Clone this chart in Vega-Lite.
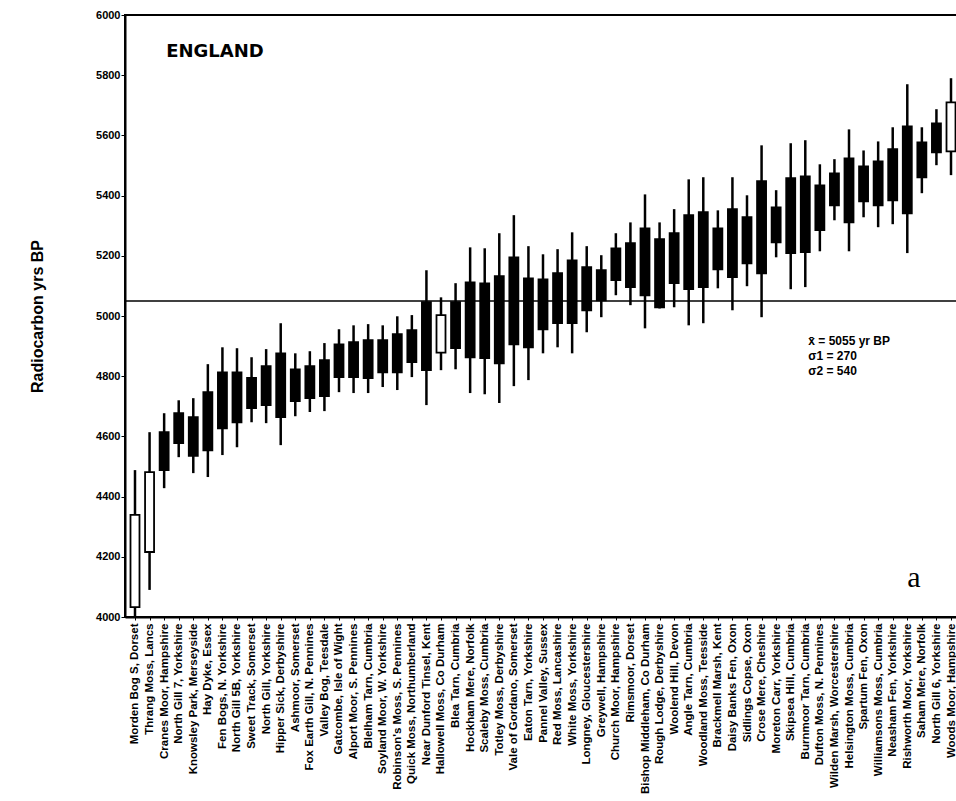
{
  "$schema": "https://vega.github.io/schema/vega-lite/v6.json",
  "width": 836,
  "height": 602,
  "autosize": {"type": "none"},
  "padding": {"left": 125, "top": 15, "right": 0, "bottom": 184},
  "background": "white",
  "config": {
    "view": {"stroke": "black", "strokeWidth": 2},
    "font": "Liberation Sans",
    "axis": {"grid": false, "domainColor": "black", "tickColor": "black", "labelColor": "black", "titleColor": "black"}
  },
  "datasets": {
    "sites": [
      {"site": "Morden Bog S, Dorset", "lo": 4000, "q1": 4033, "q3": 4339, "hi": 4488, "kind": "open"},
      {"site": "Thrang Moss, Lancs", "lo": 4090, "q1": 4216, "q3": 4481, "hi": 4614, "kind": "open"},
      {"site": "Cranes Moor, Hampshire", "lo": 4428, "q1": 4488, "q3": 4614, "hi": 4677, "kind": "filled"},
      {"site": "North Gill 7, Yorkshire", "lo": 4531, "q1": 4578, "q3": 4677, "hi": 4720, "kind": "filled"},
      {"site": "Knowsley Park, Merseyside", "lo": 4478, "q1": 4535, "q3": 4664, "hi": 4727, "kind": "filled"},
      {"site": "Hay Dyke, Essex", "lo": 4465, "q1": 4554, "q3": 4747, "hi": 4840, "kind": "filled"},
      {"site": "Fen Bogs, N. Yorkshire", "lo": 4538, "q1": 4627, "q3": 4813, "hi": 4896, "kind": "filled"},
      {"site": "North Gill 5B, Yorkshire", "lo": 4564, "q1": 4647, "q3": 4813, "hi": 4893, "kind": "filled"},
      {"site": "Sweet Track, Somerset", "lo": 4647, "q1": 4694, "q3": 4794, "hi": 4863, "kind": "filled"},
      {"site": "North Gill, Yorkshire", "lo": 4644, "q1": 4704, "q3": 4833, "hi": 4890, "kind": "filled"},
      {"site": "Hipper Sick, Derbyshire", "lo": 4571, "q1": 4664, "q3": 4876, "hi": 4976, "kind": "filled"},
      {"site": "Ashmoor, Somerset", "lo": 4667, "q1": 4717, "q3": 4823, "hi": 4876, "kind": "filled"},
      {"site": "Fox Earth Gill, N. Pennines", "lo": 4681, "q1": 4727, "q3": 4833, "hi": 4883, "kind": "filled"},
      {"site": "Valley Bog, Teesdale", "lo": 4684, "q1": 4734, "q3": 4853, "hi": 4910, "kind": "filled"},
      {"site": "Gatcombe, Isle of Wight", "lo": 4747, "q1": 4797, "q3": 4906, "hi": 4956, "kind": "filled"},
      {"site": "Alport Moor, S. Pennines", "lo": 4744, "q1": 4797, "q3": 4913, "hi": 4969, "kind": "filled"},
      {"site": "Blelham Tarn, Cumbria", "lo": 4744, "q1": 4794, "q3": 4920, "hi": 4973, "kind": "filled"},
      {"site": "Soyland Moor, W. Yorkshire", "lo": 4764, "q1": 4813, "q3": 4920, "hi": 4969, "kind": "filled"},
      {"site": "Robinson's Moss, S. Pennines", "lo": 4754, "q1": 4813, "q3": 4940, "hi": 4999, "kind": "filled"},
      {"site": "Quick Moss, Northumberland", "lo": 4797, "q1": 4847, "q3": 4953, "hi": 5003, "kind": "filled"},
      {"site": "Near Dunford Tinsel, Kent", "lo": 4704, "q1": 4820, "q3": 5046, "hi": 5152, "kind": "filled"},
      {"site": "Hallowell Moss, Co Durham", "lo": 4820, "q1": 4878, "q3": 5003, "hi": 5062, "kind": "open"},
      {"site": "Blea Tarn, Cumbria", "lo": 4823, "q1": 4893, "q3": 5046, "hi": 5109, "kind": "filled"},
      {"site": "Hockham Mere, Norfolk", "lo": 4744, "q1": 4863, "q3": 5112, "hi": 5228, "kind": "filled"},
      {"site": "Scaleby Moss, Cumbria", "lo": 4740, "q1": 4860, "q3": 5108, "hi": 5225, "kind": "filled"},
      {"site": "Totley Moss, Derbyshire", "lo": 4711, "q1": 4843, "q3": 5132, "hi": 5275, "kind": "filled"},
      {"site": "Vale of Gordano, Somerset", "lo": 4767, "q1": 4906, "q3": 5195, "hi": 5335, "kind": "filled"},
      {"site": "Eaton Tarn, Yorkshire", "lo": 4787, "q1": 4896, "q3": 5125, "hi": 5232, "kind": "filled"},
      {"site": "Pannel Valley, Sussex", "lo": 4876, "q1": 4956, "q3": 5122, "hi": 5205, "kind": "filled"},
      {"site": "Red Moss, Lancashire", "lo": 4896, "q1": 4976, "q3": 5142, "hi": 5222, "kind": "filled"},
      {"site": "White Moss, Yorkshire", "lo": 4876, "q1": 4976, "q3": 5185, "hi": 5278, "kind": "filled"},
      {"site": "Longney, Gloucestershire", "lo": 4946, "q1": 5019, "q3": 5162, "hi": 5232, "kind": "filled"},
      {"site": "Greywell, Hampshire", "lo": 4996, "q1": 5052, "q3": 5152, "hi": 5202, "kind": "filled"},
      {"site": "Church Moor, Hampshire", "lo": 5069, "q1": 5119, "q3": 5225, "hi": 5275, "kind": "filled"},
      {"site": "Rimsmoor, Dorset", "lo": 5036, "q1": 5096, "q3": 5242, "hi": 5311, "kind": "filled"},
      {"site": "Bishop Middleham, Co Durham", "lo": 4959, "q1": 5069, "q3": 5291, "hi": 5404, "kind": "filled"},
      {"site": "Rough Lodge, Derbyshire", "lo": 5025, "q1": 5029, "q3": 5255, "hi": 5311, "kind": "filled"},
      {"site": "Woolend Hill, Devon", "lo": 5029, "q1": 5109, "q3": 5275, "hi": 5355, "kind": "filled"},
      {"site": "Angle Tarn, Cumbria", "lo": 4969, "q1": 5089, "q3": 5335, "hi": 5454, "kind": "filled"},
      {"site": "Woodland Moss, Teesside", "lo": 4976, "q1": 5096, "q3": 5345, "hi": 5461, "kind": "filled"},
      {"site": "Brackmell Marsh, Kent", "lo": 5092, "q1": 5155, "q3": 5291, "hi": 5351, "kind": "filled"},
      {"site": "Daisy Banks Fen, Oxon", "lo": 5019, "q1": 5129, "q3": 5355, "hi": 5461, "kind": "filled"},
      {"site": "Sidlings Copse, Oxon", "lo": 5099, "q1": 5175, "q3": 5328, "hi": 5401, "kind": "filled"},
      {"site": "Crose Mere, Cheshire", "lo": 4996, "q1": 5142, "q3": 5448, "hi": 5567, "kind": "filled"},
      {"site": "Moreton Carr, Yorkshire", "lo": 5195, "q1": 5245, "q3": 5361, "hi": 5418, "kind": "filled"},
      {"site": "Skipsea Hill, Cumbria", "lo": 5089, "q1": 5209, "q3": 5458, "hi": 5574, "kind": "filled"},
      {"site": "Burnmoor Tarn, Cumbria", "lo": 5096, "q1": 5212, "q3": 5464, "hi": 5584, "kind": "filled"},
      {"site": "Dufton Moss, N. Pennines", "lo": 5215, "q1": 5285, "q3": 5434, "hi": 5504, "kind": "filled"},
      {"site": "Wilden Marsh, Worcestershire", "lo": 5318, "q1": 5368, "q3": 5474, "hi": 5521, "kind": "filled"},
      {"site": "Helsington Moss, Cumbria", "lo": 5215, "q1": 5311, "q3": 5524, "hi": 5620, "kind": "filled"},
      {"site": "Spartum Fen, Oxon", "lo": 5328, "q1": 5381, "q3": 5497, "hi": 5550, "kind": "filled"},
      {"site": "Williamsons Moss, Cumbria", "lo": 5295, "q1": 5368, "q3": 5514, "hi": 5580, "kind": "filled"},
      {"site": "Neasham Fen, Yorkshire", "lo": 5305, "q1": 5384, "q3": 5554, "hi": 5627, "kind": "filled"},
      {"site": "Rishworth Moor, Yorkshire", "lo": 5209, "q1": 5341, "q3": 5630, "hi": 5770, "kind": "filled"},
      {"site": "Saham Mere, Norfolk", "lo": 5408, "q1": 5461, "q3": 5577, "hi": 5627, "kind": "filled"},
      {"site": "North Gill 6, Yorkshire", "lo": 5501, "q1": 5544, "q3": 5640, "hi": 5687, "kind": "filled"},
      {"site": "Woods Moor, Hampshire", "lo": 5468, "q1": 5547, "q3": 5710, "hi": 5790, "kind": "open"}
    ]
  },
  "layer": [
    {
      "data": {"name": "sites"},
      "mark": {"type": "rule", "color": "black", "strokeWidth": 2.5},
      "encoding": {
        "x": {
          "field": "site", "type": "nominal",
          "scale": {"type": "point", "padding": 0.686, "domain": ["Morden Bog S, Dorset","Thrang Moss, Lancs","Cranes Moor, Hampshire","North Gill 7, Yorkshire","Knowsley Park, Merseyside","Hay Dyke, Essex","Fen Bogs, N. Yorkshire","North Gill 5B, Yorkshire","Sweet Track, Somerset","North Gill, Yorkshire","Hipper Sick, Derbyshire","Ashmoor, Somerset","Fox Earth Gill, N. Pennines","Valley Bog, Teesdale","Gatcombe, Isle of Wight","Alport Moor, S. Pennines","Blelham Tarn, Cumbria","Soyland Moor, W. Yorkshire","Robinson's Moss, S. Pennines","Quick Moss, Northumberland","Near Dunford Tinsel, Kent","Hallowell Moss, Co Durham","Blea Tarn, Cumbria","Hockham Mere, Norfolk","Scaleby Moss, Cumbria","Totley Moss, Derbyshire","Vale of Gordano, Somerset","Eaton Tarn, Yorkshire","Pannel Valley, Sussex","Red Moss, Lancashire","White Moss, Yorkshire","Longney, Gloucestershire","Greywell, Hampshire","Church Moor, Hampshire","Rimsmoor, Dorset","Bishop Middleham, Co Durham","Rough Lodge, Derbyshire","Woolend Hill, Devon","Angle Tarn, Cumbria","Woodland Moss, Teesside","Brackmell Marsh, Kent","Daisy Banks Fen, Oxon","Sidlings Copse, Oxon","Crose Mere, Cheshire","Moreton Carr, Yorkshire","Skipsea Hill, Cumbria","Burnmoor Tarn, Cumbria","Dufton Moss, N. Pennines","Wilden Marsh, Worcestershire","Helsington Moss, Cumbria","Spartum Fen, Oxon","Williamsons Moss, Cumbria","Neasham Fen, Yorkshire","Rishworth Moor, Yorkshire","Saham Mere, Norfolk","North Gill 6, Yorkshire","Woods Moor, Hampshire"]},
          "axis": {
            "title": null, "labelAngle": -90, "labelFont": "Liberation Sans", "labelFontWeight": "bold",
            "labelFontSize": 11.5, "labelLimit": 300, "labelOverlap": false, "labelPadding": 3,
            "tickSize": 3, "domainWidth": 2
          }
        },
        "y": {
          "field": "lo", "type": "quantitative",
          "scale": {"domain": [4000, 6000], "nice": false, "zero": false},
          "axis": {
            "title": "Radiocarbon yrs BP", "titleFontSize": 16, "titleFontWeight": "bold", "titlePadding": 50,
            "values": [4000,4100,4200,4300,4400,4500,4600,4700,4800,4900,5000,5100,5200,5300,5400,5500,5600,5700,5800,5900,6000],
            "labelExpr": "datum.value % 200 == 0 ? datum.label : ''",
            "format": "d", "labelFontSize": 11, "labelFontWeight": "bold", "labelPadding": 1,
            "tickSize": 4, "domainWidth": 2
          }
        },
        "y2": {"field": "hi"}
      }
    },
    {
      "data": {"name": "sites"},
      "mark": {"type": "bar", "size": 9, "stroke": "black", "strokeWidth": 1.8},
      "encoding": {
        "x": {"field": "site", "type": "nominal"},
        "y": {"field": "q1", "type": "quantitative"},
        "y2": {"field": "q3"},
        "fill": {"field": "kind", "type": "nominal", "scale": {"domain": ["filled", "open"], "range": ["black", "white"]}, "legend": null}
      }
    },
    {
      "data": {"values": [{"m": 5050}]},
      "mark": {"type": "rule", "color": "black", "strokeWidth": 1.6},
      "encoding": {"y": {"field": "m", "type": "quantitative"}}
    },
    {
      "data": {"values": [{"site": "Cranes Moor, Hampshire", "v": 5877, "t": "ENGLAND"}]},
      "mark": {"type": "text", "align": "left", "baseline": "middle", "dx": 2, "font": "DejaVu Sans", "fontWeight": "bold", "fontSize": 18, "color": "black"},
      "encoding": {
        "x": {"field": "site", "type": "nominal"},
        "y": {"field": "v", "type": "quantitative"},
        "text": {"field": "t"}
      }
    },
    {
      "data": {"values": [
        {"site": "Burnmoor Tarn, Cumbria", "v": 4917, "t": "x̄ = 5055 yr BP"},
        {"site": "Burnmoor Tarn, Cumbria", "v": 4867, "t": "σ1 = 270"},
        {"site": "Burnmoor Tarn, Cumbria", "v": 4817, "t": "σ2 = 540"}
      ]},
      "mark": {"type": "text", "align": "left", "baseline": "middle", "dx": 3, "font": "Liberation Sans", "fontWeight": "bold", "fontSize": 12, "color": "black"},
      "encoding": {
        "x": {"field": "site", "type": "nominal"},
        "y": {"field": "v", "type": "quantitative"},
        "text": {"field": "t"}
      }
    },
    {
      "data": {"values": [{"site": "Saham Mere, Norfolk", "v": 4130, "t": "a"}]},
      "mark": {"type": "text", "align": "center", "baseline": "middle", "dx": -8, "font": "Liberation Serif", "fontSize": 30, "color": "black"},
      "encoding": {
        "x": {"field": "site", "type": "nominal"},
        "y": {"field": "v", "type": "quantitative"},
        "text": {"field": "t"}
      }
    }
  ]
}
